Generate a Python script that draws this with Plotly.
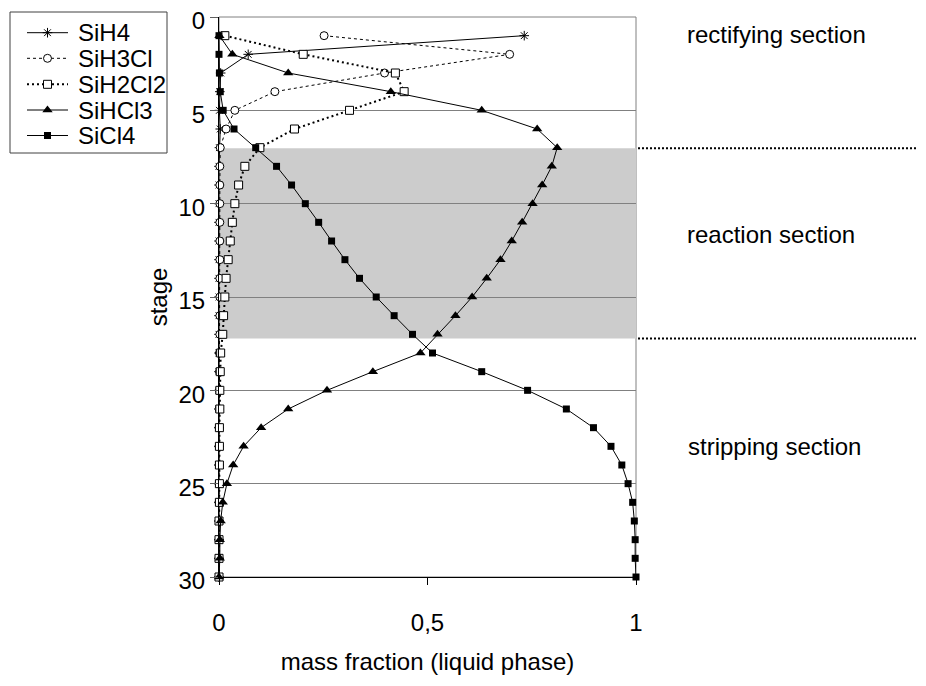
import plotly.graph_objects as go

stages = list(range(1, 31))

sih4 = [0.732, 0.070, 0.004, 0.002, 0.001, 0.003, 0.001, 0.0, 0.0, 0.0,
        0.0, 0.0, 0.0, 0.0, 0.0, 0.0, 0.0, 0.0, 0.0, 0.0,
        0.0, 0.0, 0.0, 0.0, 0.0, 0.0, 0.0, 0.0, 0.0, 0.0]
sih3cl = [0.252, 0.697, 0.397, 0.134, 0.038, 0.017, 0.003, 0.002, 0.002, 0.002,
          0.002, 0.002, 0.002, 0.002, 0.002, 0.002, 0.002, 0.001, 0.001, 0.001,
          0.0, 0.0, 0.0, 0.0, 0.0, 0.0, 0.0, 0.0, 0.0, 0.0]
sih2cl2 = [0.014, 0.202, 0.423, 0.444, 0.313, 0.181, 0.098, 0.062, 0.047, 0.038,
           0.032, 0.027, 0.022, 0.017, 0.014, 0.011, 0.009, 0.004, 0.003, 0.002,
           0.002, 0.001, 0.001, 0.001, 0.001, 0.001, 0.0, 0.0, 0.0, 0.0]
sihcl3 = [0.001, 0.032, 0.166, 0.412, 0.630, 0.763, 0.811, 0.798, 0.775, 0.752,
          0.727, 0.702, 0.675, 0.642, 0.607, 0.567, 0.524, 0.483, 0.369, 0.259,
          0.166, 0.101, 0.059, 0.034, 0.019, 0.009, 0.004, 0.002, 0.002, 0.0]
sicl4 = [0.0, 0.0, 0.001, 0.003, 0.010, 0.036, 0.088, 0.138, 0.174, 0.207,
         0.239, 0.270, 0.302, 0.337, 0.377, 0.420, 0.464, 0.512, 0.630, 0.740,
         0.833, 0.898, 0.940, 0.966, 0.981, 0.992, 0.996, 0.998, 0.998, 1.0]

series_names = ["SiH4", "SiH3Cl", "SiH2Cl2", "SiHCl3", "SiCl4"]
series_values = [sih4, sih3cl, sih2cl2, sihcl3, sicl4]

x_tickvals = [0, 0.5, 1]
x_ticktext = ["0", "0,5", "1"]
y_tickvals = [0, 5, 10, 15, 20, 25, 30]

reaction_top = 7.03
reaction_bottom = 17.22

section_labels = ["rectifying section", "reaction section", "stripping section"]

FONT = "Liberation Sans, Arial, sans-serif"
W, H = 926, 686
OX, OY = 8, 8  # page body margin offset


def fx(px):
    return (px - OX) / W


def fy(py):
    return 1 - (py - OY) / H


styles = {
    "SiH4": dict(line=dict(color="black", width=1),
                 marker=dict(symbol="asterisk-open", size=8, color="black",
                             line=dict(color="black", width=1))),
    "SiH3Cl": dict(line=dict(color="black", width=1, dash="3px,3px"),
                   marker=dict(symbol="circle", size=8, color="white",
                               line=dict(color="black", width=1))),
    "SiH2Cl2": dict(line=dict(color="black", width=2, dash="2px,3px"),
                    marker=dict(symbol="square", size=8, color="white",
                                line=dict(color="black", width=1))),
    "SiHCl3": dict(line=dict(color="black", width=1),
                   marker=dict(symbol="triangle-up", size=9, color="black",
                               line=dict(width=0))),
    "SiCl4": dict(line=dict(color="black", width=1),
                  marker=dict(symbol="square", size=7, color="black",
                              line=dict(width=0))),
}

fig = go.Figure()

for name, vals in zip(series_names, series_values):
    st = styles[name]
    fig.add_trace(go.Scatter(
        x=vals, y=stages, name=name, mode="lines+markers", cliponaxis=False,
        line=st["line"], marker=st["marker"], showlegend=False,
        xaxis="x", yaxis="y",
    ))

# ---- hand-built legend (sample line + marker + text) in its own small axes ----
leg_left, leg_top, leg_right, leg_bottom = 10, 12, 167, 153
leg_rows = [20.7, 46.3, 72.3, 98.0, 123.5]
for name, yr in zip(series_names, leg_rows):
    st = styles[name]
    fig.add_trace(go.Scatter(
        x=[17, 58], y=[yr, yr], mode="lines", line=st["line"],
        showlegend=False, hoverinfo="skip", cliponaxis=False,
        xaxis="x2", yaxis="y2",
    ))
    fig.add_trace(go.Scatter(
        x=[37.5], y=[yr], mode="markers", marker=st["marker"],
        showlegend=False, hoverinfo="skip", cliponaxis=False,
        xaxis="x2", yaxis="y2",
    ))
    fig.add_annotation(text=name, xref="paper", yref="paper",
                       x=fx(leg_left + 66), y=fy(leg_top + yr),
                       xanchor="left", yanchor="middle", showarrow=False,
                       font=dict(size=24, color="black", family=FONT))

fig.add_shape(type="rect", xref="paper", yref="paper",
              x0=fx(leg_left), x1=fx(leg_right), y0=fy(leg_bottom), y1=fy(leg_top),
              line=dict(color="#404040", width=1), fillcolor="rgba(0,0,0,0)", layer="above")

# reaction section band
fig.add_shape(type="rect", xref="x", yref="y", x0=0, x1=1.005, y0=reaction_top, y1=reaction_bottom,
              fillcolor="#cccccc", line=dict(width=0), layer="below")
# plot area border (top/right gray)
fig.add_shape(type="rect", xref="x domain", yref="y domain", x0=0, x1=1, y0=0, y1=1,
              line=dict(color="#808080", width=1), layer="below")
# dotted section separators
for yv in (reaction_top, reaction_bottom):
    fig.add_shape(type="line", xref="paper", yref="y", x0=fx(638), x1=1.0, y0=yv, y1=yv,
                  line=dict(color="black", width=2, dash="2px,2px"))

label_pos = [(685, 35), (685, 234), (686, 447)]
for txt, (px, py) in zip(section_labels, label_pos):
    fig.add_annotation(text=txt, xref="paper", yref="paper",
                       x=fx(px), y=fy(py),
                       xanchor="left", yanchor="middle", showarrow=False,
                       font=dict(size=24, color="black", family=FONT))

fig.update_layout(
    width=W, height=H,
    margin=dict(l=0, r=0, t=0, b=0, autoexpand=False),
    paper_bgcolor="white", plot_bgcolor="white",
    font=dict(family=FONT, size=24, color="black"),
    showlegend=False,
    xaxis=dict(
        domain=[fx(219), fx(636)], anchor="y",
        range=[0, 1], tickvals=x_tickvals, ticktext=x_ticktext,
        showgrid=False, zeroline=False,
        showline=True, linecolor="black", linewidth=1,
        ticks="outside", ticklen=7, tickcolor="black",
        ticklabelstandoff=17, ticklabeloverflow="allow",
        title=dict(text="mass fraction (liquid phase)", standoff=18,
                   font=dict(size=24, family=FONT)),
        tickfont=dict(size=24, family=FONT),
        automargin=False,
    ),
    yaxis=dict(
        domain=[fy(577), fy(17)], anchor="x",
        range=[30, 0], tickvals=y_tickvals,
        showgrid=True, gridcolor="#808080", gridwidth=1, zeroline=False,
        showline=True, linecolor="black", linewidth=1,
        ticks="outside", ticklen=8, tickcolor="#606060",
        ticklabeloverflow="allow", ticklabelshift=-4,
        title=dict(text="stage", standoff=4, font=dict(size=24, family=FONT)),
        tickfont=dict(size=24, family=FONT),
        automargin=False,
    ),
    xaxis2=dict(domain=[fx(leg_left), fx(leg_right)], range=[0, leg_right - leg_left],
                visible=False, fixedrange=True, anchor="y2"),
    yaxis2=dict(domain=[fy(leg_bottom), fy(leg_top)], range=[leg_bottom - leg_top, 0],
                visible=False, fixedrange=True, anchor="x2"),
)

fig.write_html("out.html")
